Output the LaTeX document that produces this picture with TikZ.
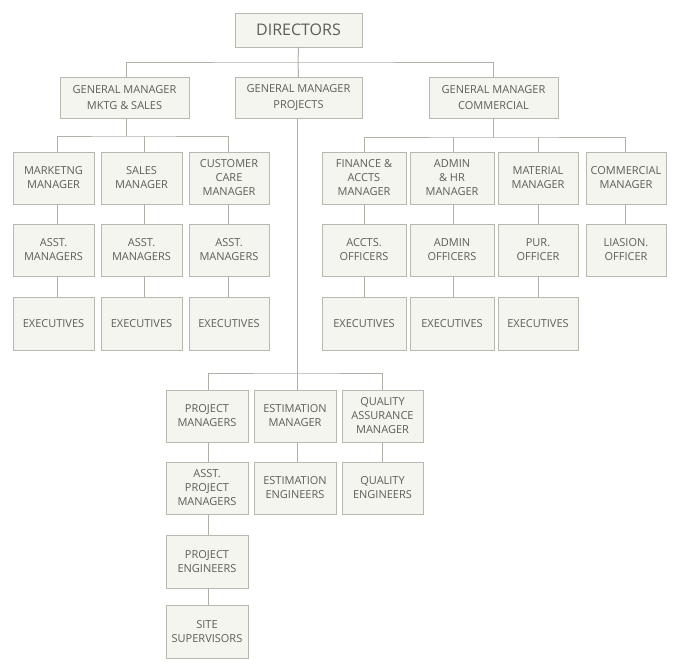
\documentclass[tikz,border=0pt]{standalone}
\usepackage{fontspec}
\setmainfont{Open Sans}
\definecolor{boxfill}{HTML}{F5F5F0}
\definecolor{boxline}{HTML}{B8B8B0}
\definecolor{txt}{HTML}{5E5E58}
\definecolor{conn}{HTML}{B0B0A8}
\begin{document}
\begin{tikzpicture}[x=1pt,y=-1pt,
  box/.style={draw=boxline,fill=boxfill,line width=1pt,inner sep=0pt,outer sep=0pt,
    align=center,text=txt,font=\fontsize{11}{14}\selectfont},
  gmbox/.style={box,font=\fontsize{11}{16.5}\selectfont},
  conn/.style={draw=conn,line width=1pt}]
\useasboundingbox (0,0) rectangle (675,670);
\newcommand\bx[7][box]{\node[#1,minimum width=#5-#3,minimum height=#6-#4] (#2) at ({(#3+#5)/2},{(#4+#6)/2}) {#7};}
% level 0
\bx[box,font=\fontsize{16}{18}\selectfont]{dir}{235}{13}{362}{47}{DIRECTORS}
% level 1
\bx[gmbox]{gmm}{60}{77}{189}{118}{GENERAL MANAGER\\MKTG \& SALES}
\bx[gmbox]{gmp}{235}{77}{362}{118}{GENERAL MANAGER\\PROJECTS}
\bx[gmbox]{gmc}{429}{77}{558}{118}{GENERAL MANAGER\\COMMERCIAL}
% mktg
\bx{mm}{13}{152}{94}{204}{MARKETNG\\MANAGER}
\bx{sm}{101}{152}{182}{204}{SALES\\MANAGER}
\bx{cc}{189}{152}{269}{204}{CUSTOMER\\CARE\\MANAGER}
\bx{am1}{13}{224}{94}{276}{ASST.\\MANAGERS}
\bx{am2}{101}{224}{182}{276}{ASST.\\MANAGERS}
\bx{am3}{189}{224}{269}{276}{ASST.\\MANAGERS}
\bx{ex1}{13}{297}{94}{350}{EXECUTIVES}
\bx{ex2}{101}{297}{182}{350}{EXECUTIVES}
\bx{ex3}{189}{297}{269}{350}{EXECUTIVES}
% commercial
\bx{fin}{322}{152}{406}{204}{FINANCE \&\\ACCTS\\MANAGER}
\bx{adm}{410}{152}{494}{204}{ADMIN\\\& HR\\MANAGER}
\bx{mat}{498}{152}{578}{204}{MATERIAL\\MANAGER}
\bx{com}{586}{152}{666}{204}{COMMERCIAL\\MANAGER}
\bx{ao}{322}{224}{406}{276}{ACCTS.\\OFFICERS}
\bx{ado}{410}{224}{494}{276}{ADMIN\\OFFICERS}
\bx{po}{498}{224}{578}{276}{PUR.\\OFFICER}
\bx{lo}{586}{224}{666}{276}{LIASION.\\OFFICER}
\bx{ex4}{322}{297}{406}{350}{EXECUTIVES}
\bx{ex5}{410}{297}{494}{350}{EXECUTIVES}
\bx{ex6}{498}{297}{578}{350}{EXECUTIVES}
% projects
\bx{pm}{166}{390}{248}{442}{PROJECT\\MANAGERS}
\bx{em}{254}{390}{336}{442}{ESTIMATION\\MANAGER}
\bx{qa}{342}{390}{423}{442}{QUALITY\\ASSURANCE\\MANAGER}
\bx{apm}{166}{462}{248}{514}{ASST.\\PROJECT\\MANAGERS}
\bx{ee}{254}{462}{336}{514}{ESTIMATION\\ENGINEERS}
\bx{qe}{342}{462}{423}{514}{QUALITY\\ENGINEERS}
\bx{pe}{166}{535}{248}{588}{PROJECT\\ENGINEERS}
\bx{ss}{166}{605}{248}{658}{SITE\\SUPERVISORS}
% connectors
\begin{scope}[conn]
\coordinate (j1) at (298,62);
\draw (dir.south) -- (j1);
\draw ([xshift=1.5]gmm.north) |- (j1) -| (gmc.north);
\draw (j1) -- (gmp.north);
\coordinate (j2) at (126,136);
\draw ([xshift=1.5]gmm.south) -- (j2);
\draw ([xshift=3.5]mm.north) |- (j2) -| ([xshift=-1]cc.north);
\draw ([xshift=2.5]sm.north) -- ([xshift=2.5]sm.north |- j2);
\draw ([xshift=3.5]mm.south) -- ([xshift=3.5]am1.north);
\draw ([xshift=2.5]sm.south) -- ([xshift=2.5]am2.north);
\draw ([xshift=-1]cc.south) -- ([xshift=-1]am3.north);
\draw ([xshift=3.5]am1.south) -- ([xshift=3.5]ex1.north);
\draw ([xshift=2.5]am2.south) -- ([xshift=2.5]ex2.north);
\draw ([xshift=-1]am3.south) -- ([xshift=-1]ex3.north);
\coordinate (j3) at (493.5,137);
\draw (gmc.south) -- (j3);
\draw (fin.north) |- (j3) -| ([xshift=-1]com.north);
\draw ([xshift=1]adm.north) -- ([xshift=1]adm.north |- j3);
\draw (mat.north) -- (mat.north |- j3);
\draw (fin.south) -- (ao.north);
\draw ([xshift=1]adm.south) -- ([xshift=1]ado.north);
\draw (mat.south) -- (po.north);
\draw ([xshift=-1]com.south) -- ([xshift=-1]lo.north);
\draw (ao.south) -- (ex4.north);
\draw ([xshift=1]ado.south) -- ([xshift=1]ex5.north);
\draw (po.south) -- (ex6.north);
\coordinate (j4) at (297,373);
\draw ([xshift=-1.5]gmp.south) -- (j4);
\draw ([xshift=1]pm.north) |- (j4) -| ([xshift=-0.5]qa.north);
\draw ([xshift=2]em.north) -- ([xshift=2]em.north |- j4);
\draw ([xshift=1]pm.south) -- ([xshift=1]apm.north);
\draw ([xshift=1]apm.south) -- ([xshift=1]pe.north);
\draw ([xshift=1]pe.south) -- ([xshift=1]ss.north);
\draw ([xshift=2]em.south) -- ([xshift=2]ee.north);
\draw ([xshift=-0.5]qa.south) -- ([xshift=-0.5]qe.north);
\end{scope}
\end{tikzpicture}
\end{document}
